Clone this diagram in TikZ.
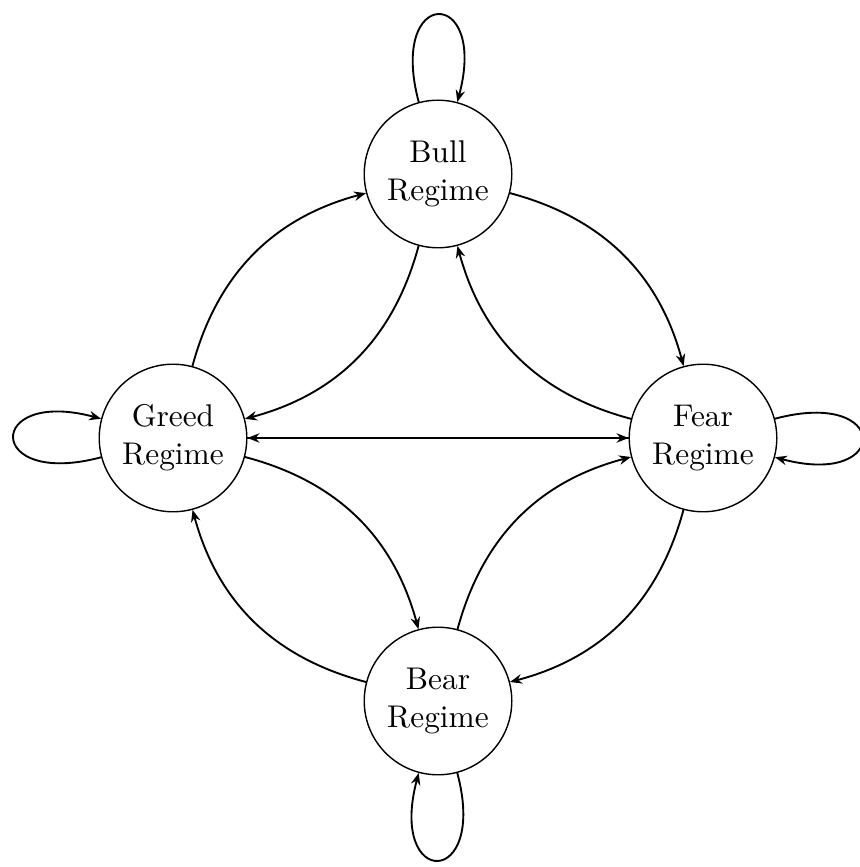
\documentclass[tikz,border=0pt]{standalone}
\usetikzlibrary{arrows.meta}
\begin{document}
\begin{tikzpicture}[x=0.3185pt,y=-0.3185pt,
  regime/.style={circle,draw,line width=0.45pt,minimum size=47pt,inner sep=0pt,align=center},
  trans/.style={-{Stealth[length=3.8pt,width=3pt]},line width=0.6pt}]
\useasboundingbox (0,0) rectangle (859,867);
\node[regime] (bull) at (438,174) {Bull\\Regime};
\node[regime] (greed) at (173,438) {Greed\\Regime};
\node[regime] (fear) at (703,438) {Fear\\Regime};
\node[regime] (bear) at (438,701) {Bear\\Regime};
\draw[trans] (bull) to[bend left=30] (fear);
\draw[trans] (fear) to[bend left=30] (bull);
\draw[trans] (bull) to[bend left=30] (greed);
\draw[trans] (greed) to[bend left=30] (bull);
\draw[trans] (greed) to[bend left=30] (bear);
\draw[trans] (bear) to[bend left=30] (greed);
\draw[trans] (fear) to[bend left=30] (bear);
\draw[trans] (bear) to[bend left=30] (fear);
\draw[trans] (greed) -- (fear);
\draw[trans] (fear) -- (greed);
\draw[trans] (bull) to[loop above] (bull);
\draw[trans] (greed) to[loop left] (greed);
\draw[trans] (fear) to[out=15,in=-15,loop] (fear);
\draw[trans] (bear) to[loop below] (bear);
\end{tikzpicture}
\end{document}
